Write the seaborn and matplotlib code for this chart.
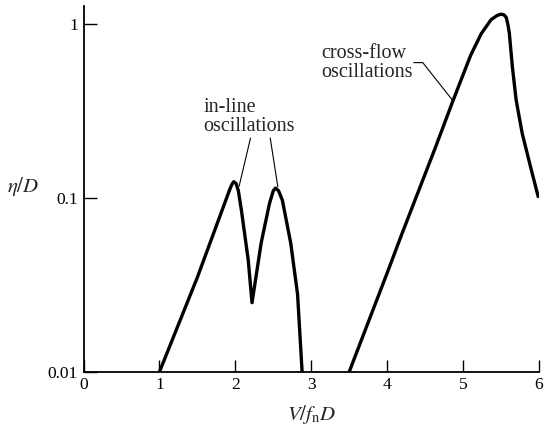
import numpy as np
import pandas as pd
import matplotlib
matplotlib.use('Agg')
import matplotlib.pyplot as plt
import seaborn as sns

# in-line oscillations
inline_x = [1.00, 1.50, 1.93, 1.96, 1.98, 2.01, 2.04, 2.08, 2.17, 2.22, 2.34, 2.45, 2.50, 2.53, 2.57, 2.62, 2.73, 2.82, 2.88]
inline_y = [0.010, 0.035, 0.113, 0.121, 0.124, 0.121, 0.110, 0.085, 0.044, 0.025, 0.055, 0.093, 0.110, 0.114, 0.110, 0.097, 0.055, 0.028, 0.010]

# cross-flow oscillations
cross_x = [3.50, 4.00, 4.20, 4.64, 4.86, 5.10, 5.24, 5.37, 5.45, 5.50, 5.54, 5.57, 5.59, 5.61, 5.65, 5.70, 5.78, 5.89, 5.99]
cross_y = [0.010, 0.037, 0.063, 0.197, 0.355, 0.66, 0.88, 1.06, 1.12, 1.14, 1.13, 1.09, 1.00, 0.89, 0.57, 0.366, 0.235, 0.151, 0.102]

x_ticks = [0, 1, 2, 3, 4, 5, 6]
y_ticks = [0.01, 0.1, 1]
y_ticklabels = ['0.01', '0.1', '1']

sns.set_style('ticks')
plt.rcParams['font.family'] = ['Liberation Serif', 'DejaVu Serif']
plt.rcParams['mathtext.fontset'] = 'stix'

fig = plt.figure(figsize=(5.46, 4.28), dpi=100)
ax = fig.add_axes([0.153, 0.131, 0.834, 0.855])

df_in = pd.DataFrame({'x': inline_x, 'y': inline_y})
df_cf = pd.DataFrame({'x': cross_x, 'y': cross_y})
sns.lineplot(data=df_in, x='x', y='y', sort=False, estimator=None, color='black', lw=2.4, ax=ax)
sns.lineplot(data=df_cf, x='x', y='y', sort=False, estimator=None, color='black', lw=2.4, ax=ax)

ax.set_yscale('log')
ax.set_xlim(0, 6)
ax.set_ylim(0.01, 1.27)
ax.set_xticks(x_ticks)
ax.set_xticklabels([str(t) for t in x_ticks])
ax.set_yticks(y_ticks)
ax.set_yticklabels(y_ticklabels)
ax.minorticks_off()
ax.tick_params(direction='in', length=9, width=1.0, labelsize=12.5, pad=4, colors='black')

sns.despine(ax=ax)
for s in ['left', 'bottom']:
    ax.spines[s].set_linewidth(1.3)
    ax.spines[s].set_color('black')

ax.set_xlabel(r'$V/f_{\rm n}D$', fontsize=15)
ax.set_ylabel(r'$\eta/D$', fontsize=15, rotation=0)
ax.xaxis.set_label_coords(0.5, -0.085)
ax.yaxis.set_label_coords(-0.133, 0.475)

# annotations
ax.text(1.58, 0.227, 'in-line\noscillations', fontsize=14.5, ha='left', va='bottom', linespacing=1.0)
ax.plot([2.20, 2.05], [0.221, 0.117], color='black', lw=0.8)
ax.plot([2.46, 2.56], [0.221, 0.116], color='black', lw=0.8)

ax.text(3.13, 0.465, 'cross-flow\noscillations', fontsize=14.5, ha='left', va='bottom', linespacing=1.0)
ax.plot([4.35, 4.47, 4.87], [0.60, 0.60, 0.361], color='black', lw=0.8)

fig.savefig('out.png', dpi=100)
